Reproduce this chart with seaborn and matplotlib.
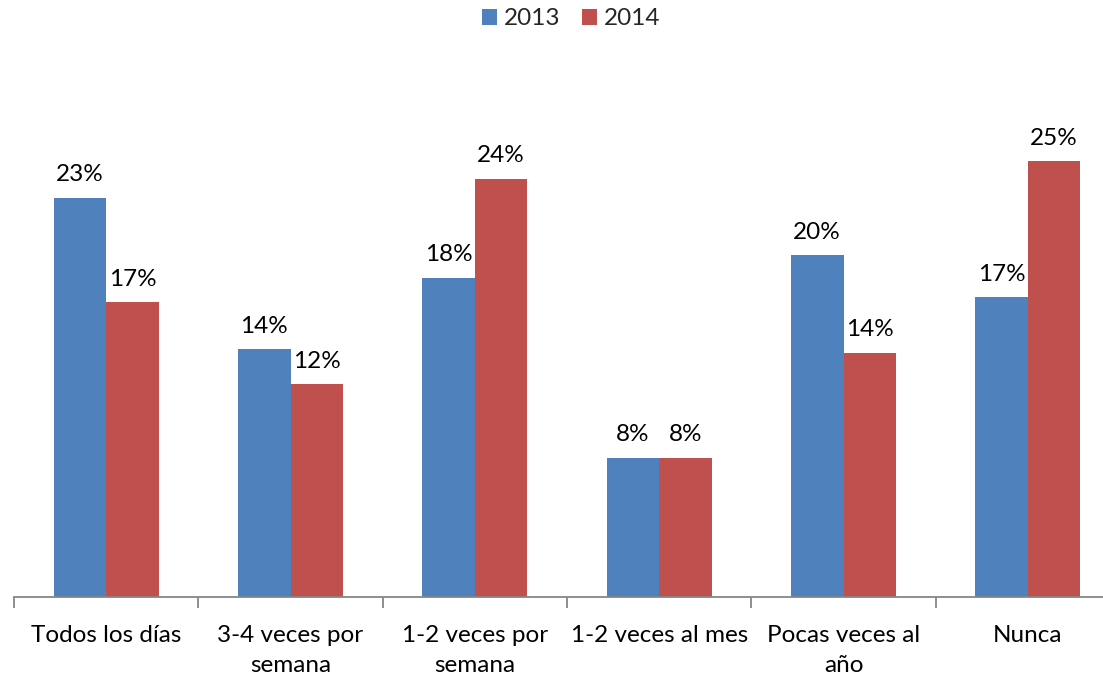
import matplotlib
matplotlib.use("Agg")
import matplotlib.pyplot as plt
import seaborn as sns
import pandas as pd
from matplotlib.patches import Patch

categories = ["Todos los días", "3-4 veces por\nsemana", "1-2 veces por\nsemana",
              "1-2 veces al mes", "Pocas veces al\naño", "Nunca"]
years = ["2013", "2014"]
values_2013 = [22.9, 14.2, 18.3, 8.0, 19.6, 17.2]
values_2014 = [16.9, 12.2, 24.0, 8.0, 14.0, 25.0]
labels_2013 = ["23%", "14%", "18%", "8%", "20%", "17%"]
labels_2014 = ["17%", "12%", "24%", "8%", "14%", "25%"]
colors = ["#4F81BD", "#C0504D"]

df = pd.DataFrame({
    "categoria": categories * 2,
    "anio": [years[0]] * len(categories) + [years[1]] * len(categories),
    "valor": values_2013 + values_2014,
})

sns.set_style("white")
plt.rcParams["font.family"] = ["Lato", "DejaVu Sans"]

W, H = 1103, 674
fig = plt.figure(figsize=(W / 100, H / 100), dpi=100)
ax = fig.add_axes([14 / W, (H - 597) / H, 1106 / W, 523 / H])

sns.barplot(data=df, x="categoria", y="valor", hue="anio", palette=colors,
            width=0.57, ax=ax, legend=False, saturation=1, linewidth=0)

for cont, labs in zip(ax.containers, [labels_2013, labels_2014]):
    ax.bar_label(cont, labels=labs, padding=9, fontsize=17.5, color="black")

ax.set_xlim(-0.5, len(categories) - 0.5)
ax.set_ylim(0, 30)
ax.set_xlabel("")
ax.set_ylabel("")
ax.set_yticks([])
for s in ["top", "right", "left"]:
    ax.spines[s].set_visible(False)
ax.spines["bottom"].set_color("#868686")
ax.spines["bottom"].set_linewidth(1.3)

ax.set_xticks([i - 0.5 for i in range(len(categories) + 1)])
ax.set_xticklabels([])
ax.tick_params(axis="x", which="major", length=8, width=1.3, color="#868686", bottom=True)
ax.set_xticks(range(len(categories)), minor=True)
ax.set_xticklabels(categories, minor=True, fontsize=17.5, linespacing=1.55)
ax.tick_params(axis="x", which="minor", length=0, pad=20, labelcolor="black")

handles = [Patch(facecolor=c, edgecolor="none") for c in colors]
fig.legend(handles, years, loc="center", bbox_to_anchor=(0.518, 0.972), ncol=2,
           frameon=False, fontsize=17.5, handlelength=0.6, handleheight=0.6,
           handletextpad=0.3, columnspacing=0.9)

fig.savefig("out.png", dpi=100)
